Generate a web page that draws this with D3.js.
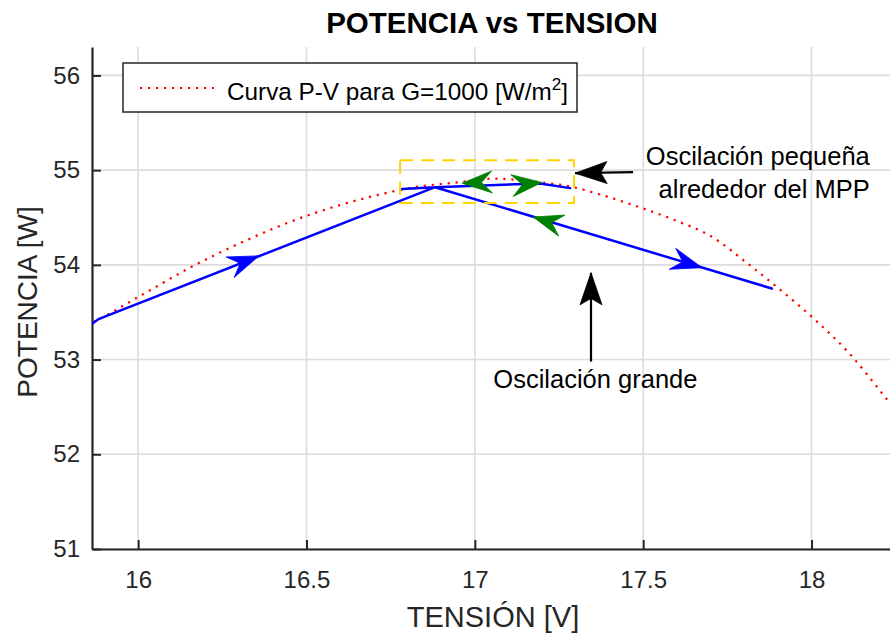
<!DOCTYPE html>
<html><head><meta charset="utf-8">
<script src="https://cdn.jsdelivr.net/npm/d3@7/dist/d3.min.js"></script>
<style>body{margin:0;background:#fff}svg{display:block}</style>
</head><body>
<svg id="chart" width="890" height="637"></svg>
<script>
// ---- data ----
const curveV = [15.80, 15.863, 16.0, 16.154, 16.303, 16.502, 16.659, 16.822, 16.947, 17.054, 17.173, 17.292, 17.393, 17.496, 17.588, 17.707, 17.808, 17.882, 18.007, 18.111, 18.215, 18.26];
const curveP = [53.30, 53.39, 53.66, 53.97, 54.23, 54.52, 54.69, 54.82, 54.87, 54.91, 54.88, 54.82, 54.72, 54.60, 54.48, 54.29, 54.02, 53.81, 53.43, 53.07, 52.62, 52.42];
const trackV = [15.855, 15.884, 16.882, 17.882, 16.882, 16.784, 16.882, 17.194, 17.283, 17.194];
const trackP = [53.36, 53.43, 54.82, 53.75, 54.82, 54.80, 54.82, 54.86, 54.81, 54.86];
const xTicks = [16, 16.5, 17, 17.5, 18];
const yTicks = [51, 52, 53, 54, 55, 56];
const xTickLabels = ["16", "16.5", "17", "17.5", "18"];
const yTickLabels = ["51", "52", "53", "54", "55", "56"];
const titleText = "POTENCIA vs TENSION";
const xLabel = "TENSIÓN [V]";
const yLabel = "POTENCIA [W]";
const legendText = "Curva P-V para G=1000 [W/m";
// arrows along the track: tip and a point behind it (data coords)
const blueArrowTip = [[16.359, 54.095], [17.675, 53.97]];
const blueArrowFrom = [[15.884, 53.43], [16.882, 54.82]];
const greenArrowTip = [[16.962, 54.862], [17.199, 54.87], [17.173, 54.505]];
const greenArrowFrom = [[17.045, 54.874], [17.109, 54.836], [17.882, 53.75]];
// black annotation arrows [from, to]
const blackArrowFrom = [[17.470, 54.979], [17.345, 52.979]];
const blackArrowTo = [[17.2975, 54.968], [17.345, 53.916]];
// highlight box [V0,V1,P0,P1]
const boxV = [16.778, 17.2945];
const boxP = [54.653, 55.105];
const noteText = ["Oscilación pequeña", "alrededor del MPP", "Oscilación grande"];
const noteV = [18.173, 18.173, 17.358];
const noteP = [55.053, 54.705, 52.695];
const noteAnchor = ["end", "end", "middle"];

// ---- layout ----
const L = 92, T = 47, R = 890, B = 549;
const FONT = "'Liberation Sans', Arial, Helvetica, sans-serif";
const TXT = "#262626";

const svg = d3.select("#chart");
const x = d3.scaleLinear().domain([15.863, 18.233]).range([L, R]);
const y = d3.scaleLinear().domain([51, 56.3]).range([B, T]);

svg.append("defs").append("clipPath").attr("id", "clip")
  .append("rect").attr("x", L).attr("y", T).attr("width", R - L).attr("height", B - T);

// grid
const grid = svg.append("g");
grid.selectAll(".gx").data(xTicks).join("line")
  .attr("x1", d => x(d)).attr("x2", d => x(d)).attr("y1", T).attr("y2", B)
  .attr("stroke", "#dcdcdc").attr("stroke-width", 1.6);
grid.selectAll(".gy").data(yTicks).join("line")
  .attr("x1", L).attr("x2", R).attr("y1", d => y(d)).attr("y2", d => y(d))
  .attr("stroke", "#dcdcdc").attr("stroke-width", 1.6);

// axes
const xAxis = svg.append("g").attr("transform", `translate(0,${B})`)
  .call(d3.axisBottom(x).tickValues(xTicks).tickFormat((d, i) => xTickLabels[i])
        .tickSizeInner(-9).tickSizeOuter(0).tickPadding(22));
const yAxis = svg.append("g").attr("transform", `translate(${L},0)`)
  .call(d3.axisLeft(y).tickValues(yTicks).tickFormat((d, i) => yTickLabels[i])
        .tickSizeInner(-9).tickSizeOuter(0).tickPadding(12));
[xAxis, yAxis].forEach(g => {
  g.select(".domain").attr("stroke", TXT).attr("stroke-width", 2.2);
  g.selectAll(".tick line").attr("stroke", TXT).attr("stroke-width", 2);
  g.selectAll(".tick text").attr("fill", TXT).style("font-family", FONT).style("font-size", "24px");
});

// red dotted P-V curve
const curveData = curveV.map((v, i) => [v, curveP[i]]);
const line = d3.line().x(d => x(d[0])).y(d => y(d[1]));
svg.append("path").datum(curveData)
  .attr("clip-path", "url(#clip)")
  .attr("d", line.curve(d3.curveMonotoneX))
  .attr("fill", "none").attr("stroke", "#ff0000").attr("stroke-width", 2.2)
  .attr("stroke-dasharray", "2.2,5.8");

// blue track
const trackData = trackV.map((v, i) => [v, trackP[i]]);
svg.append("path").datum(trackData)
  .attr("clip-path", "url(#clip)")
  .attr("d", d3.line().x(d => x(d[0])).y(d => y(d[1])))
  .attr("fill", "none").attr("stroke", "#0000ff").attr("stroke-width", 2.5)
  .attr("stroke-linejoin", "round");

// yellow dashed box
svg.append("rect")
  .attr("x", x(boxV[0])).attr("y", y(boxP[1]))
  .attr("width", x(boxV[1]) - x(boxV[0])).attr("height", y(boxP[0]) - y(boxP[1]))
  .attr("fill", "none").attr("stroke", "#ffd400").attr("stroke-width", 2)
  .attr("stroke-dasharray", "13,8");

// arrowhead helper (tip + direction in pixels)
function head(tip, from, len, half, notch, color) {
  const tx = x(tip[0]), ty = y(tip[1]);
  const a = Math.atan2(ty - y(from[1]), tx - x(from[0]));
  const c = Math.cos(a), s = Math.sin(a);
  const pt = (u, v) => [tx + u * c - v * s, ty + u * s + v * c];
  const pts = [pt(0, 0), pt(-len, -half), pt(-len * notch, 0), pt(-len, half)];
  svg.append("path").attr("d", "M" + pts.map(p => p.join(",")).join("L") + "Z")
    .attr("fill", color).attr("stroke", color).attr("stroke-width", 0.8)
    .attr("stroke-linejoin", "round");
}
blueArrowTip.forEach((t, i) => head(t, blueArrowFrom[i], 31, 11, 0.65, "#0000ff"));
greenArrowTip.forEach((t, i) => head(t, greenArrowFrom[i], 30, 11, 0.65, "#008000"));

// black annotation arrows
blackArrowFrom.forEach((f, i) => {
  const t = blackArrowTo[i];
  svg.append("line").attr("x1", x(f[0])).attr("y1", y(f[1]))
    .attr("x2", x(t[0])).attr("y2", y(t[1]))
    .attr("stroke", "#000").attr("stroke-width", 2.2);
  head(t, f, 32, 11, 0.8, "#000");
});

// notes
noteText.forEach((t, i) => {
  svg.append("text").attr("x", x(noteV[i])).attr("y", y(noteP[i]))
    .attr("text-anchor", noteAnchor[i]).attr("fill", "#000")
    .style("font-family", FONT).style("font-size", "25.5px").text(t);
});

// legend
const lg = svg.append("g");
lg.append("rect").attr("x", 123).attr("y", 63).attr("width", 454).attr("height", 49)
  .attr("fill", "#fff").attr("stroke", TXT).attr("stroke-width", 1.5);
lg.append("line").attr("x1", 140).attr("x2", 214).attr("y1", 88).attr("y2", 88)
  .attr("stroke", "#ff0000").attr("stroke-width", 2.2).attr("stroke-dasharray", "2.2,5.8");
const lt = lg.append("text").attr("x", 227).attr("y", 100).attr("fill", "#000")
  .style("font-family", FONT).style("font-size", "24.3px").text(legendText);
lt.append("tspan").attr("dy", -10).style("font-size", "17px").text("2");
lt.append("tspan").attr("dy", 10).text("]");

// title and labels
svg.append("text").attr("x", 492).attr("y", 33).attr("text-anchor", "middle")
  .attr("fill", "#000").style("font-family", FONT).style("font-weight", "bold")
  .style("font-size", "29.5px").text(titleText);
svg.append("text").attr("x", 493).attr("y", 627).attr("text-anchor", "middle")
  .attr("fill", TXT).style("font-family", FONT).style("font-size", "29px").text(xLabel);
svg.append("text").attr("transform", "translate(37,302) rotate(-90)").attr("text-anchor", "middle")
  .attr("fill", TXT).style("font-family", FONT).style("font-size", "28px").text(yLabel);
</script>
</body></html>
